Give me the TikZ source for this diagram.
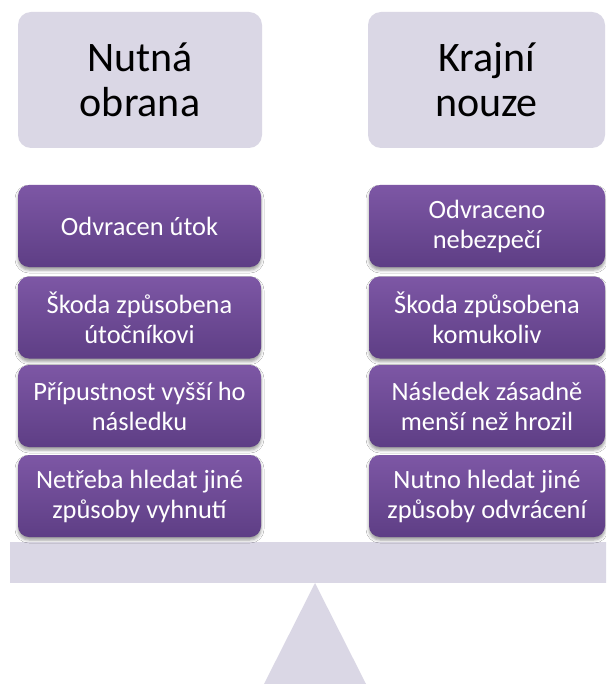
\documentclass[tikz,border=0pt]{standalone}
\usepackage{fontspec}
\setmainfont{Carlito}
\usetikzlibrary{shadows.blur}
\definecolor{hdr}{HTML}{DAD7E5}
\definecolor{ptop}{HTML}{7D57A5}
\definecolor{pbot}{HTML}{5E3E85}
\begin{document}
\begin{tikzpicture}[x=1pt,y=-1pt,
  hdrbox/.style={fill=hdr, rounded corners=13pt, inner sep=0pt, align=center,
    font=\fontsize{42}{45}\selectfont, text=black, minimum height=136pt},
  pbox/.style={top color=ptop, bottom color=pbot, rounded corners=11pt, inner sep=0pt,
    align=center, font=\fontsize{26.4}{30}\selectfont, text=white, minimum height=82pt,
    blur shadow={shadow xshift=0pt, shadow yshift=-3pt, shadow blur radius=3pt, shadow opacity=40}},
  lbox/.style={pbox, minimum width=243pt},
  rbox/.style={pbox, minimum width=236pt},
  base/.style={fill=hdr}
]
\clip (0,0) rectangle (606,684);
\fill[white] (0,0) rectangle (606,684);
% balance
\fill[base] (10,542) rectangle (620,583);
\fill[base] (315,583) -- (264,684) -- (366,684) -- cycle;
% headers
\node[hdrbox, minimum width=244pt] (hl) at (140,80) {Nutná\\obrana};
\node[hdrbox, minimum width=237pt] (hr) at (486.5,80) {Krajní\\nouze};
% left column
\node[lbox] (l1) at (139.5,226) {Odvracen útok};
\node[lbox] (l2) at (139.5,317.5) {Škoda způsobena\\útočníkovi};
\node[lbox] (l3) at (139.5,406) {Přípustnost vyšší ho\\následku};
\node[lbox] (l4) at (139.5,496) {Netřeba hledat jiné\\způsoby vyhnutí};
% right column
\node[rbox] (r1) at (487,226) {Odvraceno\\nebezpečí};
\node[rbox] (r2) at (487,317.5) {Škoda způsobena\\komukoliv};
\node[rbox] (r3) at (487,406) {Následek zásadně\\menší než hrozil};
\node[rbox] (r4) at (487,496) {Nutno hledat jiné\\způsoby odvrácení};
\end{tikzpicture}
\end{document}
